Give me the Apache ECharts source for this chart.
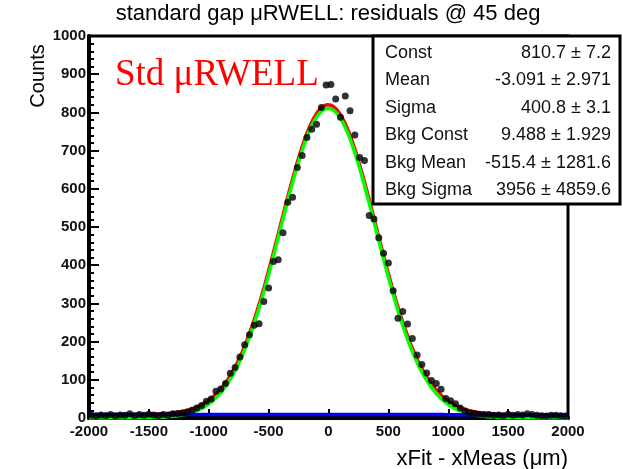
<!DOCTYPE html>
<html>
<head>
<meta charset="utf-8">
<script src="https://cdn.jsdelivr.net/npm/echarts@6/dist/echarts.min.js"></script>
<style>
html,body{margin:0;padding:0;background:#fff;}
#chart{width:623px;height:469px;}
</style>
</head>
<body>
<div id="chart"></div>
<script>
// ---- data ----
const binCenters = [-1980,-1940,-1900,-1860,-1820,-1780,-1740,-1700,-1660,-1620,
  -1580,-1540,-1500,-1460,-1420,-1380,-1340,-1300,-1260,-1220,
  -1180,-1140,-1100,-1060,-1020,-980,-940,-900,-860,-820,
  -780,-740,-700,-660,-620,-580,-540,-500,-460,-420,
  -380,-340,-300,-260,-220,-180,-140,-100,-60,-20,
  20,60,100,140,180,220,260,300,340,380,
  420,460,500,540,580,620,660,700,740,780,
  820,860,900,940,980,1020,1060,1100,1140,1180,
  1220,1260,1300,1340,1380,1420,1460,1500,1540,1580,
  1620,1660,1700,1740,1780,1820,1860,1900,1940,1980];
const binCounts = [7,5,8,6,9,5,8,7,11,6,
  9,7,10,8,6,9,7,11,12,13,
  16,20,26,33,44,50,70,76,90,117,
  132,160,192,218,243,247,305,340,410,414,
  485,565,578,656,687,734,756,769,813,872,
  873,835,787,843,804,741,682,674,530,521,
  472,431,406,333,261,279,246,208,165,140,
  118,98,90,75,51,45,37,26,18,14,
  12,10,9,9,7,8,6,10,7,9,
  8,11,9,7,6,5,7,7,6,5];

// fit parameters (stats box)
const paramNames  = ['Const','Mean','Sigma','Bkg Const','Bkg Mean','Bkg Sigma'];
const paramValues = ['810.7','-3.091','400.8','9.488','-515.4','3956'];
const paramErrors = ['7.2','2.971','3.1','1.929','1281.6','4859.6'];
const fitConst = 810.7, fitMean = -3.091, fitSigma = 400.8;
const bkgConst = 9.488, bkgMean = -515.4, bkgSigma = 3956;

const xTicks = [-2000,-1500,-1000,-500,0,500,1000,1500,2000];
const yTicks = [0,100,200,300,400,500,600,700,800,900,1000];

const titleText = 'standard gap \u03bcRWELL: residuals @ 45 deg';
const xTitle = 'xFit - xMeas (\u03bcm)';
const yTitle = 'Counts';
const tagText = 'Std \u03bcRWELL';

// ---- fit function evaluation ----
function gaus(x, c, m, s){ return c*Math.exp(-0.5*((x-m)/s)*((x-m)/s)); }
const fitX = [];
for (let x = -2000; x <= 2000; x += 10) fitX.push(x);
const sigCurve = fitX.map(x => [x, gaus(x, fitConst, fitMean, fitSigma)]);
const bkgCurve = fitX.map(x => [x, gaus(x, bkgConst, bkgMean, bkgSigma)]);
const totCurve = fitX.map(x => [x, gaus(x, fitConst, fitMean, fitSigma) + gaus(x, bkgConst, bkgMean, bkgSigma)]);
const points = binCenters.map((c,i) => [c, binCounts[i]]);

const FONT = '"Liberation Sans", Arial, Helvetica, sans-serif';

const chart = echarts.init(document.getElementById('chart'), null, {renderer:'canvas'});

const statsGraphics = [];
const boxL = 373, boxT = 36, boxW = 247, boxH = 168;
statsGraphics.push({type:'rect', shape:{x:boxL, y:boxT, width:boxW, height:boxH},
  style:{fill:'#fff', stroke:'#000', lineWidth:3}, z:100});
paramNames.forEach((n,i) => {
  const y = boxT + 17 + i*27.5;
  statsGraphics.push({type:'text', x:boxL+12, y:y, z:101,
    style:{text:n, font:'18px '+FONT, fill:'#111', align:'left', verticalAlign:'middle'}});
  statsGraphics.push({type:'text', x:boxL+boxW-9, y:y, z:101,
    style:{text:paramValues[i]+' \u00b1 '+paramErrors[i], font:'18px '+FONT, fill:'#111', align:'right', verticalAlign:'middle'}});
});

const plainNum = v => String(v);

chart.setOption({
  animation:false,
  backgroundColor:'#fff',
  grid:{left:89, right:55, top:36, bottom:51, show:true, borderColor:'#000', borderWidth:3, backgroundColor:'transparent'},
  xAxis:{type:'value', min:xTicks[0], max:xTicks[xTicks.length-1], interval:500,
    axisLine:{show:true, onZero:false, lineStyle:{color:'#000', width:4}},
    axisTick:{show:true, inside:true, length:9, lineStyle:{color:'#000', width:2}},
    minorTick:{show:true, splitNumber:5, length:5, lineStyle:{color:'#000', width:2}},
    splitLine:{show:false},
    axisLabel:{color:'#111', fontSize:15, fontWeight:'bold', fontFamily:FONT, margin:6, formatter:plainNum, showMinLabel:true, showMaxLabel:true}},
  yAxis:{type:'value', min:yTicks[0], max:yTicks[yTicks.length-1], interval:100,
    axisLine:{show:true, onZero:false, lineStyle:{color:'#000', width:4}},
    axisTick:{show:true, inside:true, length:10, lineStyle:{color:'#000', width:2}},
    minorTick:{show:true, splitNumber:5, length:5, lineStyle:{color:'#000', width:2}},
    splitLine:{show:false},
    axisLabel:{color:'#111', fontSize:15, fontWeight:'bold', fontFamily:FONT, margin:3, formatter:plainNum}},
  series:[
    {type:'line', data:totCurve, showSymbol:false, lineStyle:{color:'#ff0000', width:3.5}, z:3, silent:true},
    {type:'line', data:sigCurve, showSymbol:false, lineStyle:{color:'#00ff00', width:3.5}, z:4, silent:true},
    {type:'line', data:bkgCurve, showSymbol:false, lineStyle:{color:'#0000ff', width:3.5}, z:5, silent:true},
    {type:'scatter', data:points, symbol:'circle', symbolSize:7, itemStyle:{color:'#000'}, z:6, silent:true}
  ],
  graphic:[
    {type:'text', x:328, y:14, style:{text:titleText, font:'22px '+FONT, fill:'#000', align:'center', verticalAlign:'middle'}},
    {type:'text', x:568, y:459, style:{text:xTitle, font:'22px '+FONT, fill:'#000', align:'right', verticalAlign:'middle'}},
    {type:'text', x:38, y:76, rotation:Math.PI/2, style:{text:yTitle, font:'20px '+FONT, fill:'#000', align:'center', verticalAlign:'middle'}},
    {type:'text', x:115, y:75, z:50, style:{text:tagText, font:'37px "Liberation Serif", "Times New Roman", serif', fill:'#ff0000', align:'left', verticalAlign:'middle'}}
  ].concat(statsGraphics)
});
</script>
</body>
</html>
